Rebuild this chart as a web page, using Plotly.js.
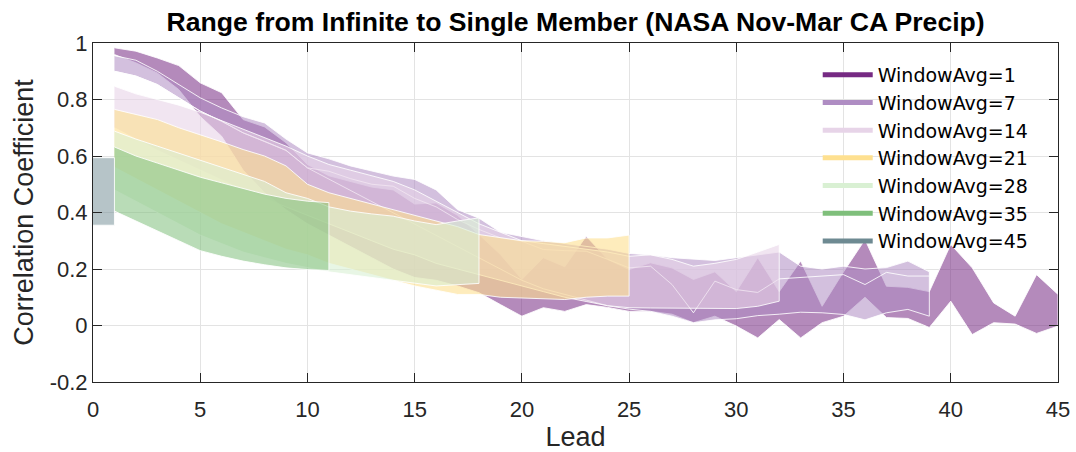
<!DOCTYPE html>
<html><head><meta charset="utf-8">
<script src="https://cdn.plot.ly/plotly-3.0.1.min.js"></script>
<style>html,body{margin:0;padding:0;background:#fff}#chart{width:1076px;height:452px}</style>
</head><body><div id="chart"></div>
<script>
// ---- data ----
const lead = [0,1,2,3,4,5,6,7,8,9,10,11,12,13,14,15,16,17,18,19,20,21,22,23,24,25,26,27,28,29,30,31,32,33,34,35,36,37,38,39,40,41,42,43,44,45];
const seriesNames = ['WindowAvg=1','WindowAvg=7','WindowAvg=14','WindowAvg=21','WindowAvg=28','WindowAvg=35','WindowAvg=45'];
const xTickVals = [0,5,10,15,20,25,30,35,40,45];
const yTickVals = [-0.2,0,0.2,0.4,0.6,0.8,1];
const yTickText = ['-0.2','0','0.2','0.4','0.6','0.8','1'];

// WindowAvg=1, leads 1..45
const wa1Upper = [0.983,0.971,0.947,0.92,0.859,0.824,0.729,0.703,0.647,0.57,0.53,0.51,0.49,0.48,0.43,0.434,0.39,0.322,0.251,0.163,0.24,0.208,0.316,0.234,0.198,0.222,0.204,0.163,0.19,0.12,0.24,0.12,0.228,0.068,0.19,0.304,0.139,0.135,0.12,0.287,0.204,0.08,0.033,0.18,0.11];
const wa1Lower = [0.959,0.93,0.894,0.835,0.74,0.67,0.55,0.47,0.41,0.36,0.32,0.28,0.24,0.2,0.17,0.16,0.14,0.116,0.074,0.033,0.063,0.05,0.074,0.064,0.05,0.05,0.04,0.01,0.033,-0.002,-0.044,0.021,-0.044,0.01,0.033,0.10,0.028,0.025,-0.007,0.086,-0.032,0.01,0.005,-0.028,-0.002];
// WindowAvg=7, leads 1..39
const wa7Upper = [0.955,0.939,0.90,0.853,0.806,0.77,0.739,0.717,0.66,0.611,0.59,0.565,0.546,0.529,0.517,0.48,0.41,0.38,0.33,0.315,0.30,0.29,0.28,0.27,0.255,0.25,0.24,0.235,0.23,0.24,0.25,0.26,0.21,0.20,0.21,0.20,0.205,0.228,0.19];
const wa7Lower = [0.90,0.883,0.853,0.806,0.759,0.723,0.682,0.652,0.62,0.558,0.52,0.48,0.44,0.40,0.36,0.32,0.28,0.24,0.20,0.16,0.13,0.11,0.09,0.07,0.058,0.05,0.033,0.01,0.02,0.024,0.035,0.04,0.047,0.045,0.039,0.02,0.045,0.057,0.033];
const wa7Line = [0.90,0.883,0.853,0.806,0.759,0.723,0.682,0.652,0.62,0.558,0.546,0.52,0.50,0.493,0.45,0.42,0.375,0.34,0.31,0.298,0.269,0.265,0.263,0.234,0.204,0.21,0.145,0.045,0.157,0.127,0.117,0.165,0.17,0.175,0.18,0.145,0.188,0.175,0.175];
// WindowAvg=14, leads 1..32
const wa14Upper = [0.847,0.82,0.80,0.78,0.755,0.725,0.695,0.665,0.635,0.60,0.57,0.55,0.53,0.51,0.48,0.44,0.40,0.36,0.33,0.30,0.29,0.28,0.27,0.26,0.245,0.25,0.234,0.21,0.22,0.234,0.26,0.287];
const wa14Lower = [0.70,0.66,0.62,0.585,0.55,0.515,0.48,0.45,0.42,0.39,0.36,0.33,0.30,0.27,0.25,0.22,0.20,0.18,0.16,0.14,0.12,0.10,0.085,0.07,0.063,0.062,0.06,0.06,0.06,0.06,0.068,0.086];
// WindowAvg=21, leads 1..25
const wa21Upper = [0.765,0.747,0.729,0.70,0.676,0.65,0.623,0.60,0.565,0.50,0.47,0.45,0.43,0.41,0.39,0.37,0.35,0.322,0.31,0.30,0.298,0.293,0.31,0.31,0.32];
const wa21Lower = [0.56,0.52,0.48,0.44,0.40,0.36,0.33,0.30,0.27,0.25,0.22,0.20,0.18,0.16,0.14,0.125,0.11,0.11,0.10,0.098,0.095,0.092,0.10,0.104,0.104];
// WindowAvg=28, leads 1..18
const wa28Upper = [0.688,0.66,0.635,0.61,0.585,0.56,0.535,0.51,0.47,0.45,0.42,0.405,0.395,0.387,0.37,0.357,0.37,0.381];
const wa28Lower = [0.48,0.44,0.40,0.36,0.32,0.29,0.26,0.24,0.22,0.205,0.19,0.18,0.17,0.16,0.15,0.14,0.145,0.149];
// WindowAvg=35, leads 1..11
const wa35Upper = [0.632,0.60,0.575,0.55,0.525,0.505,0.485,0.465,0.45,0.44,0.435];
const wa35Lower = [0.405,0.37,0.335,0.30,0.265,0.245,0.228,0.215,0.204,0.198,0.195];
// WindowAvg=45, leads 0..1
const wa45Upper = [0.594,0.594];
const wa45Lower = [0.355,0.355];

const lineColors = ['#762A83','#AF8DC3','#E7D4E8','#FEE090','#D9F0D3','#7FBF7B','#6E8A92'];
const fillColors = ['rgba(118,42,131,0.55)','rgba(175,141,195,0.55)','rgba(231,212,232,0.6)','rgba(254,224,144,0.6)','rgba(217,240,211,0.6)','rgba(127,191,123,0.55)','rgba(110,138,146,0.5)'];

// ---- build ----
function band(x, up, lo, fc) {
  return {
    x: x.concat(x.slice().reverse()),
    y: up.concat(lo.slice().reverse()),
    type: 'scatter', mode: 'lines', fill: 'toself', fillcolor: fc,
    line: {color: 'rgba(255,255,255,0.85)', width: 1},
    showlegend: false, hoverinfo: 'skip'
  };
}
const L1 = lead.slice(1);
const bands = [
  band(L1.slice(0,45), wa1Upper, wa1Lower, fillColors[0]),
  band(L1.slice(0,39), wa7Upper, wa7Lower, fillColors[1]),
  {x: L1.slice(0,39), y: wa7Line, type:'scatter', mode:'lines', line:{color:'rgba(255,255,255,0.85)', width:1}, showlegend:false, hoverinfo:'skip'},
  band(L1.slice(0,32), wa14Upper, wa14Lower, fillColors[2]),
  band(L1.slice(0,25), wa21Upper, wa21Lower, fillColors[3]),
  band(L1.slice(0,18), wa28Upper, wa28Lower, fillColors[4]),
  band(L1.slice(0,11), wa35Upper, wa35Lower, fillColors[5]),
  band(lead.slice(0,2), wa45Upper, wa45Lower, fillColors[6])
];
const legendTraces = seriesNames.map((n, i) => ({
  x: [null], y: [null], type: 'scatter', mode: 'lines', name: n,
  line: {color: lineColors[i], width: 5}
}));

const fam = 'Liberation Sans, Arial, Helvetica, sans-serif';
const axisCommon = {
  ticks: 'inside', ticklen: 9, tickcolor: '#262626', tickwidth: 1,
  showline: true, linecolor: '#262626', linewidth: 1, mirror: 'ticks',
  showgrid: true, gridcolor: '#e3e3e3', gridwidth: 1, zeroline: false,
  tickfont: {family: fam, size: 22, color: '#262626'}
};
const layout = {
  width: 1076, height: 452,
  margin: {l: 93, r: 18, t: 43, b: 70},
  paper_bgcolor: '#ffffff', plot_bgcolor: '#ffffff',
  font: {family: fam, color: '#262626'},
  title: {text: 'Range from Infinite to Single Member (NASA Nov-Mar CA Precip)',
          font: {family: fam, size: 26.6, color: '#000000', weight: 'bold'},
          x: 0.535, xanchor: 'center', y: 0.951, yanchor: 'middle'},
  xaxis: Object.assign({}, axisCommon, {range: [0, 45], tickvals: xTickVals, ticklabelstandoff: 8,
          title: {text: 'Lead', font: {family: fam, size: 27, color: '#262626'}, standoff: 6}}),
  yaxis: Object.assign({}, axisCommon, {range: [-0.2, 1], tickvals: yTickVals, ticktext: yTickText,
          title: {text: 'Correlation Coefficient', font: {family: fam, size: 27, color: '#262626'}, standoff: 8}}),
  legend: {x: 0.751, y: 0.962, xanchor: 'left', yanchor: 'top', bgcolor: 'rgba(0,0,0,0)',
           font: {family: 'DejaVu Sans, Liberation Sans, sans-serif', size: 19, color: '#000000'},
           tracegroupgap: 0, itemwidth: 50},
  showlegend: true
};
Plotly.newPlot('chart', bands.concat(legendTraces), layout, {staticPlot: true, displayModeBar: false});
</script></body></html>
